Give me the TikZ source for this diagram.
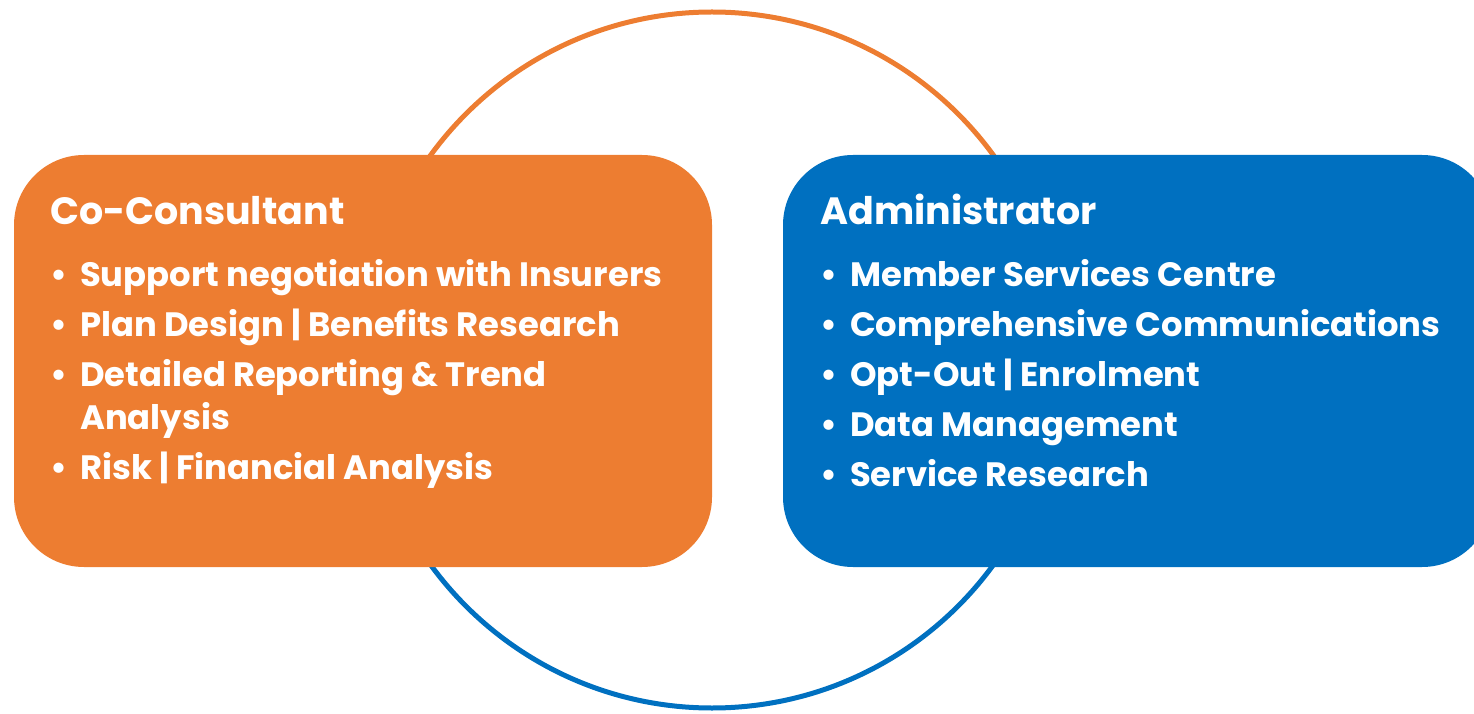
\documentclass[tikz,border=0pt]{standalone}
\usepackage{fontspec}
\setmainfont{Poppins}
\usepackage{tikz}
\usetikzlibrary{positioning,calc}
\definecolor{ccorange}{HTML}{ED7D31}
\definecolor{admblue}{HTML}{0070C0}

\begin{document}
\begin{tikzpicture}[x=1pt,y=1pt,
  panel/.style={rounded corners=70pt,minimum width=#1,minimum height=412pt,inner sep=0pt},
  ring/.style={line width=5pt},
  boxtitle/.style={anchor=base west,inner sep=0pt,text=white,font=\bfseries\fontsize{38}{44}\selectfont},
  boxitems/.style={anchor=base west,inner sep=0pt,text=white,align=left,font=\bfseries\fontsize{33.8}{43}\selectfont}]
\clip (0,0) rectangle (1474,713);
\coordinate (O) at (712,353);
% ring behind the two panels
\draw[ring,ccorange] (O) ++(0:348) arc[start angle=0,end angle=180,radius=348];
\draw[ring,admblue] (O) ++(180:348) arc[start angle=180,end angle=360,radius=348];
\node[panel=698pt,fill=ccorange] (cc) at (363,352) {};
\node[panel=709pt,fill=admblue] (adm) at (1137.5,352) {};
% left panel (base = baseline of the last line)
\node[boxtitle] (cctitle) at (50,488) {Co-Consultant};
\node[boxitems] (ccitems) at (50,234) {\makebox[30pt][l]{•}Support negotiation with Insurers\\[7pt]
  \makebox[30pt][l]{•}Plan Design | Benefits Research\\[7pt]
  \makebox[30pt][l]{•}Detailed Reporting \& Trend\\
  \hspace*{30pt}Analysis\\[7pt]
  \makebox[30pt][l]{•}Risk | Financial Analysis};
% right panel
\node[boxtitle] (admtitle) at (820,488) {Administrator};
\node[boxitems] (admitems) at (820,227) {\makebox[30pt][l]{•}Member Services Centre\\[7pt]
  \makebox[30pt][l]{•}Comprehensive Communications\\[7pt]
  \makebox[30pt][l]{•}Opt-Out | Enrolment\\[7pt]
  \makebox[30pt][l]{•}Data Management\\[7pt]
  \makebox[30pt][l]{•}Service Research};
\end{tikzpicture}
\end{document}
